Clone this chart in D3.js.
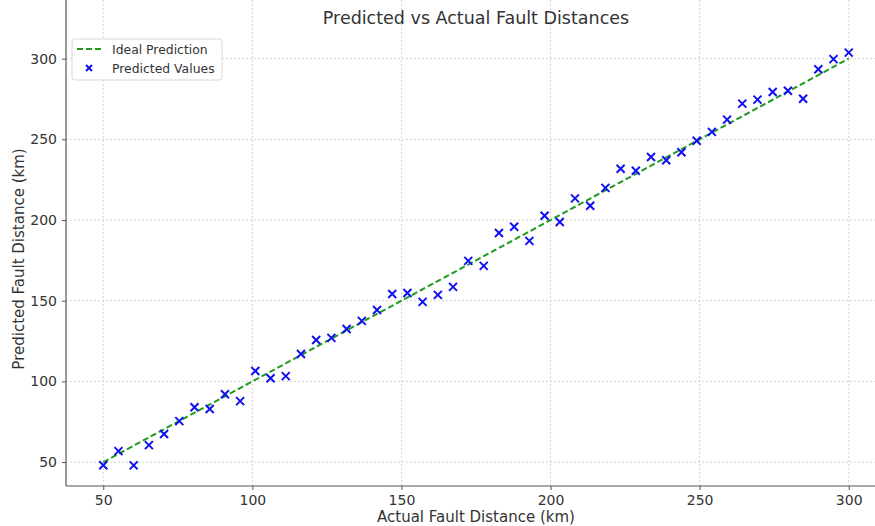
<!DOCTYPE html>
<html>
<head>
<meta charset="utf-8">
<script src="https://cdn.jsdelivr.net/npm/d3@7"></script>
<style>
  body { margin: 0; background: #fff; }
  text { font-family: "DejaVu Sans", sans-serif; fill: #333; }
</style>
</head>
<body>
<div id="chart"></div>
<script>
// actual distances (km), 50 evenly spaced points from 50 to 300
var actual = [50.0, 55.1, 60.2, 65.3, 70.4, 75.5, 80.6, 85.7, 90.8, 95.9,
  101.0, 106.1, 111.2, 116.3, 121.4, 126.5, 131.6, 136.7, 141.8, 146.9,
  152.0, 157.1, 162.2, 167.3, 172.4, 177.6, 182.7, 187.8, 192.9, 198.0,
  203.1, 208.2, 213.3, 218.4, 223.5, 228.6, 233.7, 238.8, 243.9, 249.0,
  254.1, 259.2, 264.3, 269.4, 274.5, 279.6, 284.7, 289.8, 294.9, 300.0];

// predicted distances
var predicted = [48.1, 56.8, 48.0, 60.5, 67.4, 75.4, 84.0, 82.9, 92.0, 87.8,
  106.5, 102.0, 103.3, 117.0, 125.7, 127.0, 132.5, 137.5, 144.3, 154.2,
  154.8, 149.3, 153.6, 158.6, 174.7, 171.6, 192.0, 195.8, 187.1, 202.6,
  198.8, 213.4, 208.8, 219.9, 231.8, 230.5, 239.1, 237.0, 242.0, 249.1,
  254.6, 262.2, 272.1, 274.6, 279.3, 280.1, 275.1, 293.4, 299.7, 303.7];

// ideal prediction line endpoints
var ideal = [50, 300];

var xTicks = [50, 100, 150, 200, 250, 300];
var yTicks = [50, 100, 150, 200, 250, 300];

var W = 875, H = 526;
var svg = d3.select("#chart").append("svg").attr("width", W).attr("height", H);

var x = d3.scaleLinear().domain([37.5, 312.5]).range([66, 886]);
var y = d3.scaleLinear().domain([35.2, 316.5]).range([486, 32]);

var left = x.range()[0], bottom = y.range()[0], top = y.range()[1];

// grid lines
svg.append("g").selectAll("line.gx")
  .data(xTicks).enter().append("line")
  .attr("x1", function (d) { return x(d); }).attr("x2", function (d) { return x(d); })
  .attr("y1", top).attr("y2", bottom)
  .style("stroke", "#cfcfcf").style("stroke-width", 0.9).style("stroke-dasharray", "2,2");

svg.append("g").selectAll("line.gy")
  .data(yTicks).enter().append("line")
  .attr("x1", left).attr("x2", W)
  .attr("y1", function (d) { return y(d); }).attr("y2", function (d) { return y(d); })
  .style("stroke", "#cfcfcf").style("stroke-width", 0.9).style("stroke-dasharray", "2,2");

// axes
var xAxis = svg.append("g").attr("transform", "translate(0," + bottom + ")")
  .call(d3.axisBottom(x).tickValues(xTicks).tickSize(4).tickPadding(5));
var yAxis = svg.append("g").attr("transform", "translate(" + left + ",0)")
  .call(d3.axisLeft(y).tickValues(yTicks).tickSize(4).tickPadding(5));

[xAxis, yAxis].forEach(function (a) {
  a.selectAll("text").style("font-family", "DejaVu Sans, sans-serif")
    .style("font-size", "14px").style("fill", "#333");
  a.selectAll("line").style("stroke", "#555");
  a.select(".domain").remove();
});

// spines (left and bottom)
svg.append("line").attr("x1", left).attr("x2", left).attr("y1", top).attr("y2", bottom)
  .style("stroke", "#555").style("stroke-width", 1.2);
svg.append("line").attr("x1", left).attr("x2", W).attr("y1", bottom).attr("y2", bottom)
  .style("stroke", "#555").style("stroke-width", 1.2);

// ideal line
svg.append("line")
  .attr("x1", x(ideal[0])).attr("y1", y(ideal[0]))
  .attr("x2", x(ideal[1])).attr("y2", y(ideal[1]))
  .style("stroke", "#1f9a1f").style("stroke-width", 2).style("stroke-dasharray", "6,3");

// predicted points as x markers
var s = 4;
svg.append("g").selectAll("path")
  .data(actual.map(function (a, i) { return [a, predicted[i]]; }))
  .enter().append("path")
  .attr("d", function (d) {
    var cx = x(d[0]), cy = y(d[1]);
    return "M" + (cx - s) + "," + (cy - s) + "L" + (cx + s) + "," + (cy + s) +
      "M" + (cx - s) + "," + (cy + s) + "L" + (cx + s) + "," + (cy - s);
  })
  .style("stroke", "#1010f0").style("stroke-width", 2).style("fill", "none");

// title
svg.append("text").attr("x", 476).attr("y", 24).style("text-anchor", "middle")
  .style("font-size", "17.5px").text("Predicted vs Actual Fault Distances");

// axis labels
svg.append("text").attr("x", 476).attr("y", 522).style("text-anchor", "middle")
  .style("font-size", "15px").text("Actual Fault Distance (km)");
svg.append("text").attr("transform", "translate(24,259) rotate(-90)")
  .style("text-anchor", "middle").style("font-size", "15px")
  .text("Predicted Fault Distance (km)");

// legend
var lg = svg.append("g");
lg.append("rect").attr("x", 72).attr("y", 39).attr("width", 150).attr("height", 41)
  .attr("rx", 3).style("fill", "#fff").style("stroke", "#d8d8d8");
lg.append("line").attr("x1", 77).attr("x2", 101).attr("y1", 49).attr("y2", 49)
  .style("stroke", "#1f9a1f").style("stroke-width", 2).style("stroke-dasharray", "6,3");
lg.append("path").attr("d", "M86,65L92,71M86,71L92,65")
  .style("stroke", "#1010f0").style("stroke-width", 2);
lg.append("text").attr("x", 112).attr("y", 53.5).style("font-size", "12.4px").text("Ideal Prediction");
lg.append("text").attr("x", 112).attr("y", 72.5).style("font-size", "12.4px").text("Predicted Values");
</script>
</body>
</html>
